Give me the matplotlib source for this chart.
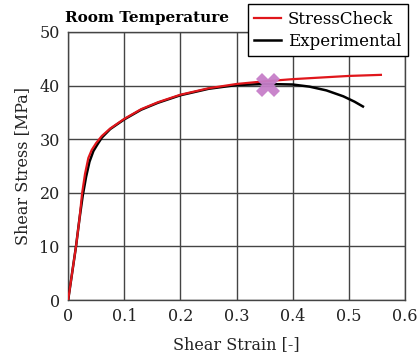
import matplotlib
matplotlib.use("Agg")
import matplotlib.pyplot as plt

# Data
sc_strain = [0.0, 0.007, 0.014, 0.02, 0.025, 0.03, 0.036, 0.042, 0.05, 0.06, 0.075, 0.1, 0.13, 0.16, 0.2, 0.25, 0.3, 0.35, 0.4, 0.45, 0.5, 0.557]
sc_stress = [0.0, 5.0, 10.0, 15.0, 20.0, 23.5, 26.5, 28.0, 29.3, 30.6, 32.0, 33.8, 35.6, 36.9, 38.3, 39.5, 40.3, 40.8, 41.2, 41.5, 41.8, 42.0]
ex_strain = [0.0, 0.007, 0.014, 0.02, 0.026, 0.032, 0.038, 0.045, 0.052, 0.06, 0.075, 0.1, 0.13, 0.16, 0.2, 0.25, 0.3, 0.35, 0.4, 0.43, 0.46, 0.49, 0.51, 0.525]
ex_stress = [0.0, 5.0, 10.0, 15.0, 19.5, 23.0, 25.8, 27.8, 29.0, 30.3, 31.9, 33.7, 35.5, 36.8, 38.2, 39.4, 40.1, 40.3, 40.2, 39.8, 39.1, 38.0, 37.0, 36.1]
mark_x = [0.356]
mark_y = [40.2]
xticks = [0, 0.1, 0.2, 0.3, 0.4, 0.5, 0.6]
yticks = [0, 10, 20, 30, 40, 50]

plt.rcParams['font.family'] = ['DejaVu Serif']

fig = plt.figure(figsize=(4.18, 3.59), dpi=100)
ax = fig.add_axes([0.163, 0.164, 0.806, 0.747])

ax.plot(ex_strain, ex_stress, color='black', lw=1.8, label='Experimental', zorder=3)
ax.plot(sc_strain, sc_stress, color='#e0161b', lw=1.6, label='StressCheck', zorder=4)
ax.plot(mark_x, mark_y, marker='X', markersize=17, color='#c67fc9', alpha=0.95, ls='none', zorder=5, markeredgewidth=0)

ax.set_xlim(0, 0.6)
ax.set_ylim(0, 50)
ax.set_xticks(xticks)
ax.set_xticklabels(['0', '0.1', '0.2', '0.3', '0.4', '0.5', '0.6'])
ax.set_yticks(yticks)
ax.grid(True, color='#444444', lw=1.0)
ax.set_axisbelow(True)
for s in ax.spines.values():
    s.set_color('#444444')
    s.set_linewidth(1.0)
ax.tick_params(length=0, labelsize=11.5, pad=6, colors='#222222')
ax.set_xlabel('Shear Strain [-]', fontsize=11.5, labelpad=8, color='#222222')
ax.set_ylabel('Shear Stress [MPa]', fontsize=11.5, labelpad=6, color='#222222')

fig.text(0.155, 0.950, 'Room Temperature', fontsize=11, fontweight='bold', ha='left', va='center')

h, l = ax.get_legend_handles_labels()
leg = ax.legend([h[1], h[0]], [l[1], l[0]], loc='upper right', bbox_to_anchor=(1.008, 1.104),
                fontsize=12, frameon=True, fancybox=False, edgecolor='black',
                borderpad=0.4, labelspacing=0.3, handlelength=1.6, handletextpad=0.4, borderaxespad=0)
leg.get_frame().set_linewidth(1.0)
leg.get_frame().set_alpha(1)

fig.savefig('out.png', dpi=100)
